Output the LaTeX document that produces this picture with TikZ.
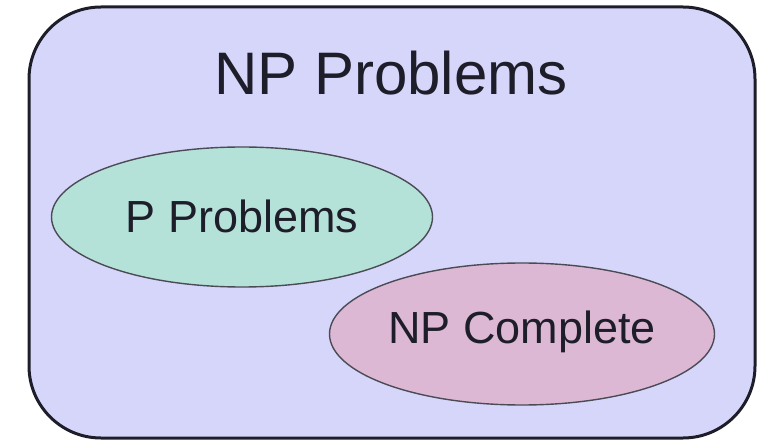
\documentclass[tikz,border=0pt]{standalone}
\usepackage{fontspec}
\setmainfont{Liberation Sans}
\usetikzlibrary{shapes.geometric}

\definecolor{npfill}{HTML}{D6D6FB}
\definecolor{pfill}{HTML}{B5E2D8}
\definecolor{npcfill}{HTML}{DDB8D4}
\definecolor{ink}{HTML}{1E1E2A}

\begin{document}
\begin{tikzpicture}[x=1pt, y=-1pt]
\def \big {\fontsize{60}{72}\selectfont}
\def \small {\fontsize{45}{54}\selectfont}

\useasboundingbox (0,0) rectangle (774,446);

% outer box
\draw[line width=3pt, ink, fill=npfill, rounded corners=72pt] (29,7) rectangle (755,438);
\node[anchor=base, text=ink] (title) at (391,95) {\big NP Problems};

% inner sets
\node[draw=ink!80, line width=1.4pt, fill=pfill, ellipse, inner sep=0pt,
  minimum width=381pt, minimum height=140pt, text=ink,
  text height=32pt, text depth=0pt] (pset) at (242,217) {\small P Problems};
\node[draw=ink!80, line width=1.4pt, fill=npcfill, ellipse, inner sep=0pt,
  minimum width=385pt, minimum height=142pt, text=ink,
  text height=32pt, text depth=12pt] (npcset) at (522,334) {\small NP Complete};
\end{tikzpicture}
\end{document}
